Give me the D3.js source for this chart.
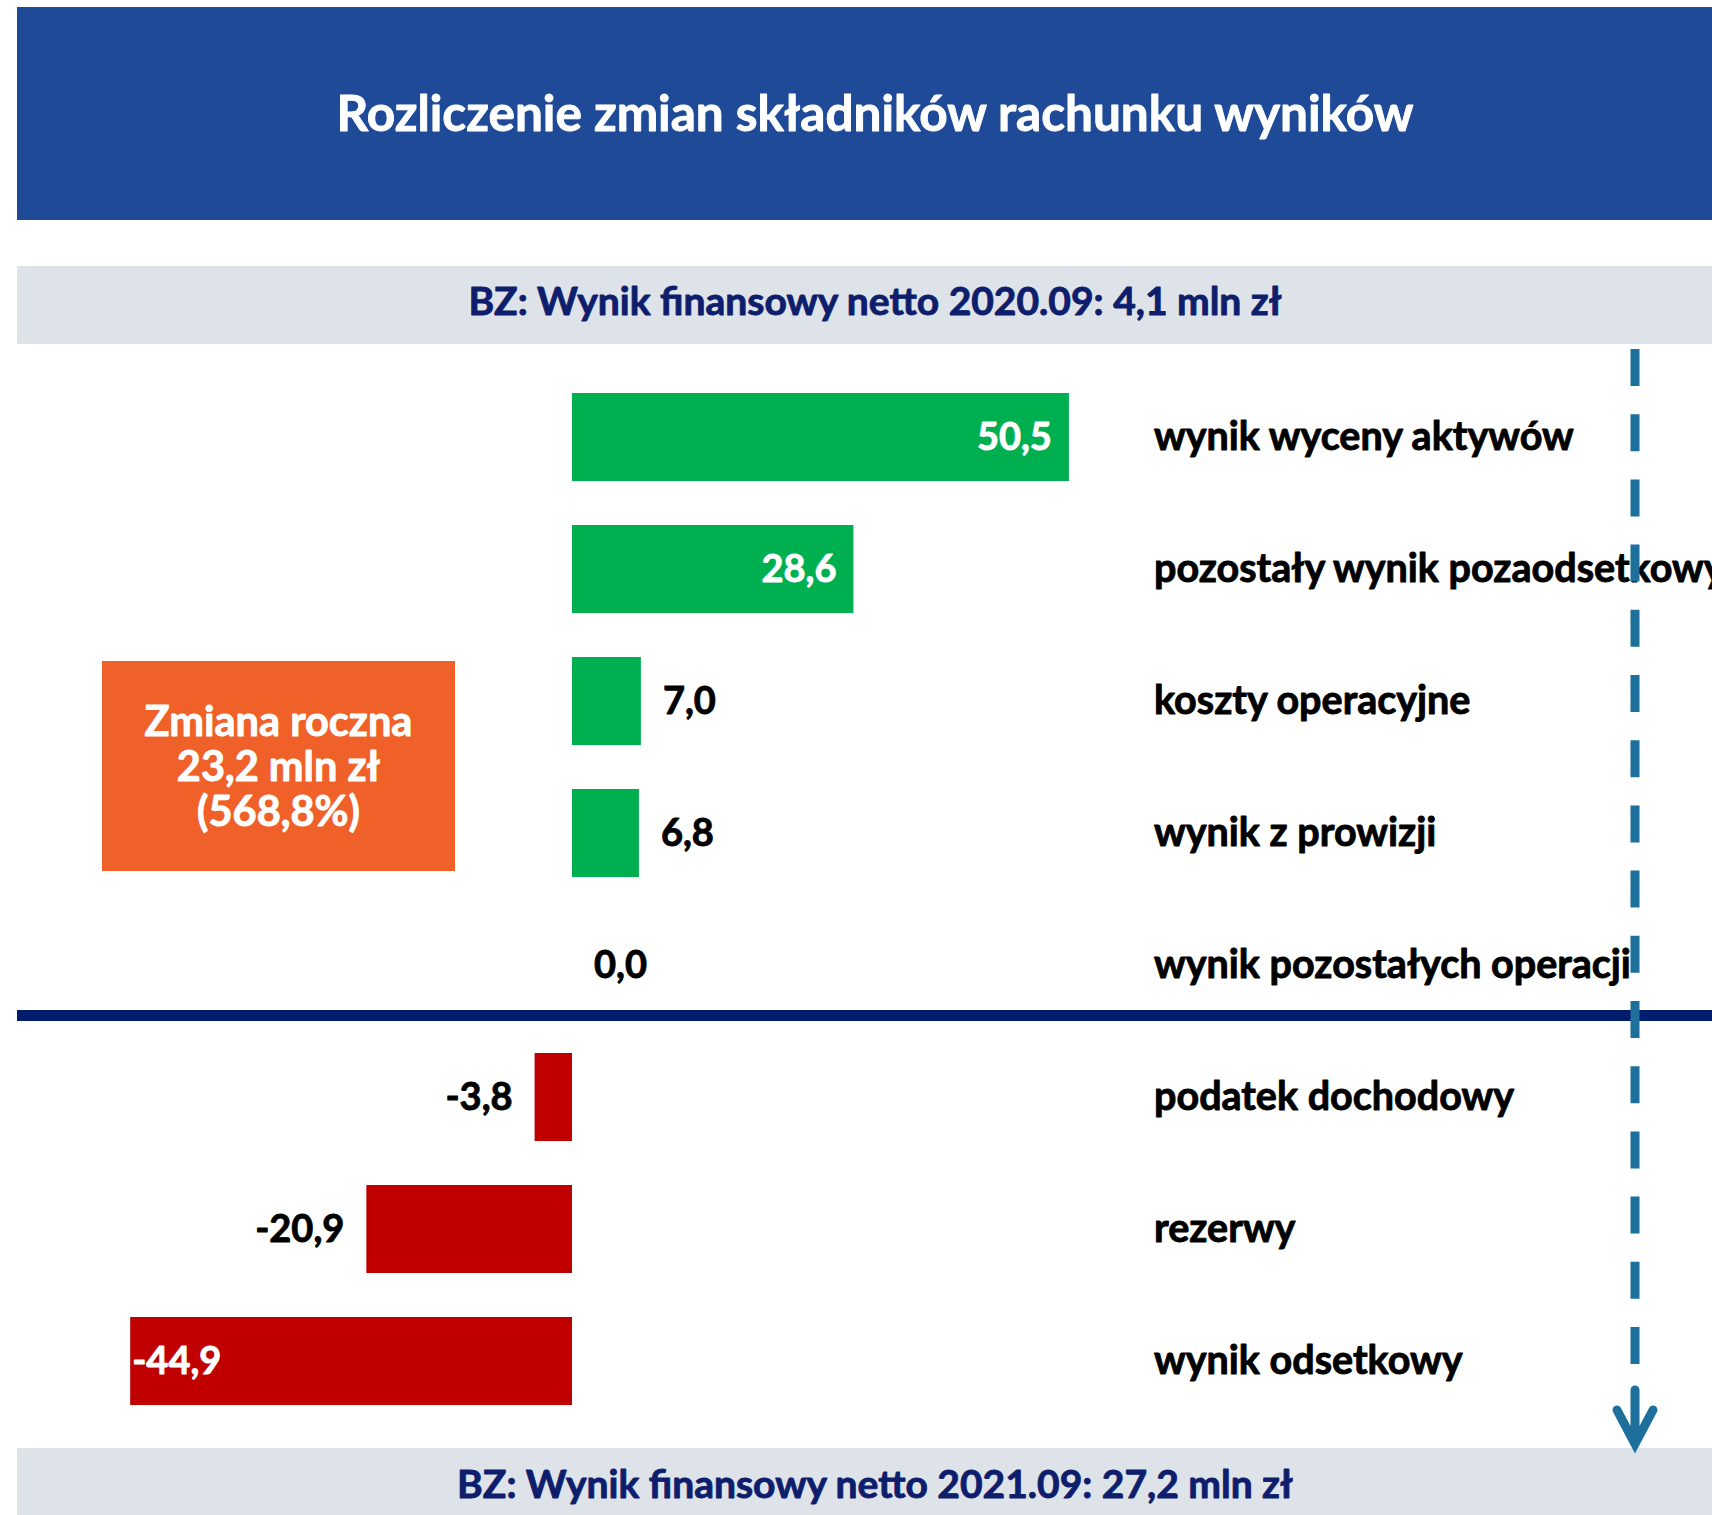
<!DOCTYPE html>
<html lang="pl">
<head>
<meta charset="utf-8">
<title>Rozliczenie zmian składników rachunku wyników</title>
<script src="https://cdn.jsdelivr.net/npm/d3@7"></script>
<style>
  html, body { margin: 0; padding: 0; background: #ffffff; }
  svg { display: block; }
  text {
    font-family: Lato, "Open Sans", "DejaVu Sans", sans-serif;
    font-weight: 700;
    paint-order: stroke;
    stroke-width: 0.9px;
    stroke-linejoin: round;
  }
</style>
</head>
<body>
<svg id="chart" width="1712" height="1515"></svg>
<script>
// Składniki zmiany wyniku netto (mln zł)
const categories = [
  "wynik wyceny aktywów",
  "pozostały wynik pozaodsetkowy",
  "koszty operacyjne",
  "wynik z prowizji",
  "wynik pozostałych operacji",
  "podatek dochodowy",
  "rezerwy",
  "wynik odsetkowy"
];
const values = [50.5, 28.6, 7.0, 6.8, 0.0, -3.8, -20.9, -44.9];

const titleText = "Rozliczenie zmian składników rachunku wyników";
const startText = "BZ: Wynik finansowy netto 2020.09: 4,1 mln zł";
const endText = "BZ: Wynik finansowy netto 2021.09: 27,2 mln zł";
const changeLines = ["Zmiana roczna", "23,2 mln zł", "(568,8%)"];

const W = 1712, H = 1515;
const fmt = v => v.toFixed(1).replace(".", ",");

const svg = d3.select("#chart");

// tekst z obrysem w kolorze wypełnienia (pogrubienie)
function label(sel, color) {
  return sel.attr("fill", color).attr("stroke", color);
}

// Nagłówek
svg.append("rect").attr("x", 17).attr("y", 7).attr("width", W - 17).attr("height", 213)
  .attr("fill", "#1F4A98");
label(svg.append("text"), "#ffffff").attr("x", 875).attr("y", 131).attr("text-anchor", "middle")
  .style("font-size", "49.5px").text(titleText);

// Pasek z wynikiem początkowym
svg.append("rect").attr("x", 17).attr("y", 266).attr("width", W - 17).attr("height", 78)
  .attr("fill", "#DEE3EA");
label(svg.append("text"), "#0E1E6C").attr("x", 875).attr("y", 315).attr("text-anchor", "middle")
  .style("font-size", "39px").text(startText);

// Pasek z wynikiem końcowym
svg.append("rect").attr("x", 17).attr("y", 1448).attr("width", W - 17).attr("height", H - 1448)
  .attr("fill", "#DEE3EA");
label(svg.append("text"), "#0E1E6C").attr("x", 875).attr("y", 1498).attr("text-anchor", "middle")
  .style("font-size", "39px").text(endText);

// Skale
const x = d3.scaleLinear().domain([-45, 55]).range([129.2, 1113.2]);
const y = d3.scaleBand().domain(categories).range([371, 1427])
  .paddingInner(1 / 3).paddingOuter(1 / 6);

const rows = categories.map((c, i) => ({ cat: c, v: values[i] }));

// Słupki
svg.append("g").selectAll("rect").data(rows.filter(d => d.v !== 0)).join("rect")
  .attr("x", d => x(Math.min(0, d.v)))
  .attr("y", d => y(d.cat))
  .attr("width", d => Math.abs(x(d.v) - x(0)))
  .attr("height", y.bandwidth())
  .attr("fill", d => d.v > 0 ? "#00B050" : "#C00000");

// Etykiety wartości
const inside = d => Math.abs(d.v) > 25;
svg.append("g").selectAll("text").data(rows).join("text")
  .attr("y", d => y(d.cat) + y.bandwidth() / 2 + 13)
  .attr("x", d => {
    if (inside(d)) return d.v > 0 ? x(d.v) - 17 : x(d.v) + 2;
    return d.v >= 0 ? x(d.v) + 22 : x(d.v) - 22;
  })
  .attr("text-anchor", d => {
    if (inside(d)) return d.v > 0 ? "end" : "start";
    return d.v >= 0 ? "start" : "end";
  })
  .attr("fill", d => inside(d) ? "#ffffff" : "#000000")
  .attr("stroke", d => inside(d) ? "#ffffff" : "#000000")
  .style("font-size", "38px")
  .text(d => fmt(d.v));

// Nazwy kategorii
svg.append("g").selectAll("text").data(categories).join("text")
  .attr("x", 1154)
  .attr("y", d => y(d) + y.bandwidth() / 2 + 13)
  .attr("fill", "#000000").attr("stroke", "#000000")
  .style("font-size", "39.5px")
  .text(d => d);

// Linia oddzielająca składniki dodatnie i ujemne
const sepY = (y(categories[4]) + y.bandwidth() + y(categories[5])) / 2 - 21;
svg.append("rect").attr("x", 17).attr("y", sepY).attr("width", W - 17).attr("height", 11)
  .attr("fill", "#021C6E");

// Ramka ze zmianą roczną
svg.append("rect").attr("x", 102).attr("y", 661).attr("width", 353).attr("height", 210)
  .attr("fill", "#EF6129");
svg.append("g").selectAll("text").data(changeLines).join("text")
  .attr("x", 278.5).attr("y", (d, i) => 736 + i * 45)
  .attr("text-anchor", "middle").attr("fill", "#ffffff").attr("stroke", "#ffffff")
  .style("font-size", "41.5px").text(d => d);

// Strzałka przerywana od wyniku początkowego do końcowego
const ax = 1635;
svg.append("line").attr("x1", ax).attr("x2", ax).attr("y1", 349).attr("y2", 1390)
  .attr("stroke", "#1D6F9C").attr("stroke-width", 9).attr("stroke-dasharray", "37 28.2");
svg.append("path")
  .attr("d", `M${ax},1390 L${ax},1444 M${ax - 18},1410 L${ax},1444 L${ax + 18},1410`)
  .attr("fill", "none").attr("stroke", "#1D6F9C").attr("stroke-width", 9)
  .attr("stroke-linecap", "round").attr("stroke-linejoin", "miter");
</script>
</body>
</html>
